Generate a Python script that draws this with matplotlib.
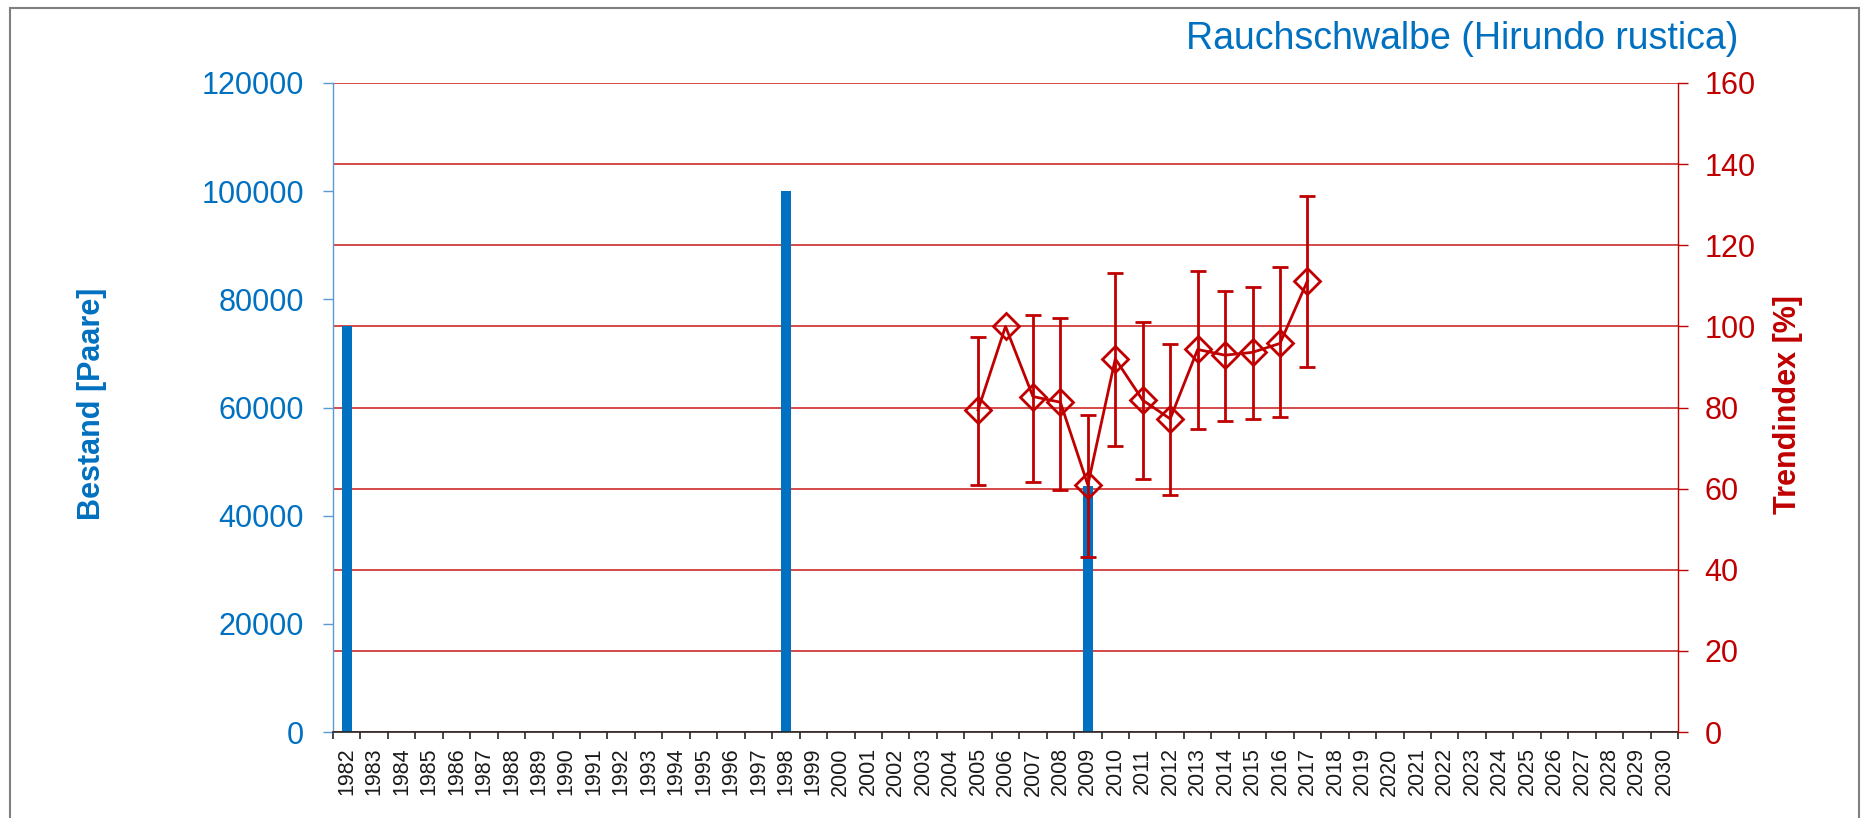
import numpy as np
import matplotlib
matplotlib.use("Agg")
import matplotlib.pyplot as plt
from matplotlib.ticker import MultipleLocator, FixedLocator
from matplotlib.patches import Rectangle

plt.rcParams['font.family'] = ['Liberation Sans', 'DejaVu Sans']

# data
years = list(range(1982, 2031))
bestand_years = [1982, 1998, 2009]
bestand = [75000, 100000, 45500]

trend_years = [2005, 2006, 2007, 2008, 2009, 2010, 2011, 2012, 2013, 2014, 2015, 2016, 2017]
trend = [79.4, 100.0, 82.7, 81.3, 60.9, 92.0, 81.8, 77.2, 94.3, 92.9, 93.6, 95.8, 111.2]
# confidence limits (2006 = base year, no bar)
trend_low = [60.8, None, 61.7, 59.7, 43.2, 70.5, 62.4, 58.4, 74.6, 76.6, 77.2, 77.6, 89.9]
trend_high = [97.5, None, 102.7, 102.1, 78.2, 113.1, 101.0, 95.6, 113.6, 108.8, 109.8, 114.6, 132.1]

title = 'Rauchschwalbe (Hirundo rustica)'

blue = '#0070C0'
light_blue = '#5B9BD5'
red = '#C00000'
grid_red = '#D23A3A'

W, H = 1872, 818
fig = plt.figure(figsize=(W / 100, H / 100), dpi=100)
x0, x1, y0, y1 = 333, 1678, 83, 732
ax = fig.add_axes([x0 / W, 1 - y1 / H, (x1 - x0) / W, (y1 - y0) / H])

xpos = {y: i for i, y in enumerate(years)}

# bars (Bestand)
ax.bar([xpos[y] for y in bestand_years], bestand, width=0.38, color=blue, zorder=2)
ax.set_xlim(-0.5, len(years) - 0.5)
ax.set_ylim(0, 120000)
ax.yaxis.set_major_locator(MultipleLocator(20000))
# gridlines follow the right axis (every 20 % = 15000 Paare)
ax.yaxis.set_minor_locator(MultipleLocator(15000))
ax.yaxis.remove_overlapping_locs = False
ax.grid(axis='y', which='minor', color=grid_red, lw=1.3, zorder=0)
ax.set_axisbelow(True)
ax.tick_params(axis='y', which='minor', length=0)
ax.tick_params(axis='y', which='major', colors=light_blue, labelcolor=blue,
               labelsize=22, length=7, width=1, pad=14)

ax.set_xticks(range(len(years)))
ax.set_xticklabels([str(y) for y in years], rotation=90, fontsize=15.5, color='#1A1A1A')
ax.xaxis.set_minor_locator(FixedLocator(np.arange(-0.5, len(years), 1.0)))
ax.tick_params(axis='x', which='major', length=0, pad=11)
ax.tick_params(axis='x', which='minor', length=5, width=1.2, color='#262626')

for s in ['top', 'right']:
    ax.spines[s].set_visible(False)
ax.spines['left'].set_color(light_blue)
ax.spines['left'].set_linewidth(1)
ax.spines['bottom'].set_color('#262626')
ax.spines['bottom'].set_linewidth(1.2)

# trend index on the right axis
ax2 = ax.twinx()
ax2.set_ylim(0, 160)
ax2.yaxis.set_major_locator(MultipleLocator(20))
ax2.tick_params(axis='y', colors=red, labelsize=22, length=7, width=1, pad=12)
for s in ['top', 'left', 'bottom']:
    ax2.spines[s].set_visible(False)
ax2.spines['right'].set_color(red)
ax2.spines['right'].set_linewidth(1)

tx = [xpos[y] for y in trend_years]
ex, ey, elo, ehi = [], [], [], []
for x, v, lo, hi in zip(tx, trend, trend_low, trend_high):
    if lo is None:
        continue
    ex.append(x)
    ey.append(v)
    elo.append(v - lo)
    ehi.append(hi - v)
ax2.errorbar(ex, ey, yerr=[elo, ehi], fmt='none', ecolor=red, elinewidth=2.0,
             capsize=6, capthick=2.0, zorder=3)
ax2.plot(tx, trend, color=red, lw=2.0, marker='D', markersize=13,
         markerfacecolor='none', markeredgecolor=red, markeredgewidth=2.0, zorder=4)

# texts
fig.text(1738 / W, 1 - 49 / H, title, ha='right', va='baseline', fontsize=27, color=blue)
fig.text(92 / W, 1 - 404 / H, 'Bestand [Paare]', rotation=90, ha='center', va='center',
         fontsize=22, fontweight='bold', color=blue)
fig.text(1788 / W, 1 - 405 / H, 'Trendindex [%]', rotation=90, ha='center', va='center',
         fontsize=22, fontweight='bold', color=red)

# outer frame of the chart area
fig.add_artist(Rectangle((10 / W, -0.05), (1859 - 10) / W, 1.05 - 8 / H,
                         transform=fig.transFigure, fill=False, edgecolor='#808080', lw=1.5))

fig.savefig('out.png', dpi=100)
